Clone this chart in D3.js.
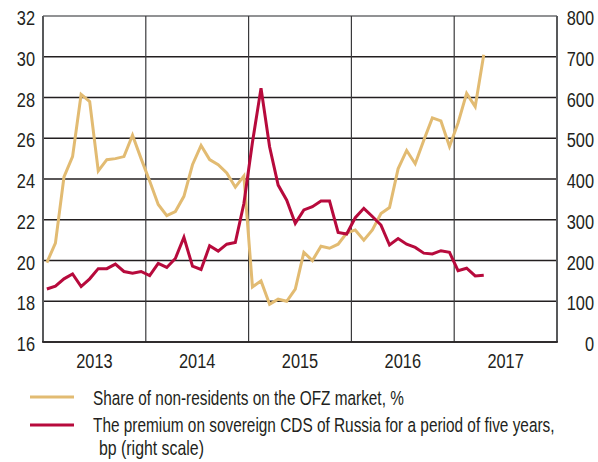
<!DOCTYPE html>
<html>
<head>
<meta charset="utf-8">
<script src="https://cdn.jsdelivr.net/npm/d3@7"></script>
<style>
  html, body { margin: 0; padding: 0; background: #fff; }
  svg { display: block; }
  text { font-family: "Liberation Sans", Arial, sans-serif; fill: #231f20; }
</style>
</head>
<body>
<svg id="chart" width="598" height="462"></svg>
<script>
// ---- data (monthly, Jan 2013 – Apr 2017) ----
const years = ["2013", "2014", "2015", "2016", "2017"];
const leftTicks = [16, 18, 20, 22, 24, 26, 28, 30, 32];
const rightTicks = [0, 100, 200, 300, 400, 500, 600, 700, 800];
const shareNonResidents = [
  19.9, 20.85, 24.1, 25.1, 28.15, 27.8, 24.4, 24.95, 25.0, 25.1, 26.15, 25.0,
  23.9, 22.75, 22.2, 22.4, 23.15, 24.7, 25.65, 24.95, 24.7, 24.3, 23.6, 24.15,
  18.7, 19.0, 17.85, 18.1, 18.0, 18.6, 20.4, 20.0, 20.7, 20.6, 20.8, 21.35,
  21.5, 21.0, 21.5, 22.3, 22.6, 24.5, 25.4, 24.75, 25.9, 27.0, 26.85, 25.6,
  26.75, 28.2, 27.55, 30.1
];
const cdsPremium = [
  130, 137, 155, 167, 136, 155, 180, 180, 191, 173, 169, 173,
  163, 193, 183, 205, 257, 186, 178, 236, 223, 240, 244, 340,
  490, 623, 479, 385, 348, 291, 324, 332, 346, 346, 269, 265,
  305, 328, 308, 287, 238, 254, 240, 232, 218, 216, 224, 220,
  175, 181, 162, 164
];
const legendLabels = [
  "Share of non-residents on the OFZ market, %",
  "The premium on sovereign CDS of Russia for a period of five years,",
  "bp (right scale)"
];

// ---- layout ----
const svg = d3.select("#chart");
const plot = { left: 43, right: 557, top: 16, bottom: 342 };

const x = d3.scaleLinear().domain([0, 60]).range([plot.left, plot.right]);
const yL = d3.scaleLinear().domain([16, 32]).range([plot.bottom, plot.top]);
const yR = d3.scaleLinear().domain([0, 800]).range([plot.bottom, plot.top]);

const colShare = "#e2bb72";
const colCds = "#b70a3c";
const sx = 0.78; // horizontal condensing of the label font

// horizontal gridlines
svg.append("g").selectAll("line").data(leftTicks).join("line")
  .attr("x1", plot.left).attr("x2", plot.right)
  .attr("y1", d => yL(d)).attr("y2", d => yL(d))
  .attr("stroke", d => d === 32 ? "#6d6e70" : "#231f20")
  .attr("stroke-width", 1.3);

// vertical year separators
svg.append("g").selectAll("line").data([12, 24, 36, 48]).join("line")
  .attr("x1", d => x(d)).attr("x2", d => x(d))
  .attr("y1", plot.top).attr("y2", plot.bottom)
  .attr("stroke", "#3a3a3c").attr("stroke-width", 1.2);

// frame: left, right, bottom
svg.append("line").attr("x1", plot.left).attr("x2", plot.left)
  .attr("y1", plot.top).attr("y2", plot.bottom)
  .attr("stroke", "#58595b").attr("stroke-width", 2);
svg.append("line").attr("x1", plot.right).attr("x2", plot.right)
  .attr("y1", plot.top).attr("y2", plot.bottom)
  .attr("stroke", "#58595b").attr("stroke-width", 2);
svg.append("line").attr("x1", plot.left - 1).attr("x2", plot.right + 1)
  .attr("y1", plot.bottom).attr("y2", plot.bottom)
  .attr("stroke", "#231f20").attr("stroke-width", 1.5);

// left axis labels
svg.append("g").selectAll("text").data(leftTicks).join("text")
  .attr("transform", d => `translate(35,${yL(d) + 9}) scale(${sx},1)`)
  .attr("text-anchor", "end").attr("font-size", 21)
  .text(d => d);

// right axis labels
svg.append("g").selectAll("text").data(rightTicks).join("text")
  .attr("transform", d => `translate(594,${yR(d) + 9}) scale(${sx},1)`)
  .attr("text-anchor", "end").attr("font-size", 21)
  .text(d => d);

// year labels
svg.append("g").selectAll("text").data(years).join("text")
  .attr("transform", (d, i) => `translate(${x(i * 12 + 6)},368) scale(${sx},1)`)
  .attr("text-anchor", "middle").attr("font-size", 21)
  .text(d => d);

// lines
const off = 0.45;
const lineShare = d3.line().x((d, i) => x(i + off)).y(d => yL(d));
const lineCds = d3.line().x((d, i) => x(i + off)).y(d => yR(d));

svg.append("path").datum(shareNonResidents)
  .attr("d", lineShare).attr("fill", "none")
  .attr("stroke", colShare).attr("stroke-width", 3)
  .attr("stroke-linejoin", "miter");
svg.append("path").datum(cdsPremium)
  .attr("d", lineCds).attr("fill", "none")
  .attr("stroke", colCds).attr("stroke-width", 3)
  .attr("stroke-linejoin", "miter");

// legend
const lg = svg.append("g");
lg.append("line").attr("x1", 30).attr("x2", 74).attr("y1", 397).attr("y2", 397)
  .attr("stroke", colShare).attr("stroke-width", 3);
lg.append("line").attr("x1", 30).attr("x2", 74).attr("y1", 425).attr("y2", 425)
  .attr("stroke", colCds).attr("stroke-width", 3);
const legendPos = [
  { x: 93, y: 405, w: 311 },
  { x: 93, y: 432, w: 462 },
  { x: 99, y: 455, w: 105 }
];
lg.selectAll("text").data(legendLabels).join("text")
  .attr("font-size", 18)
  .text(d => d)
  .each(function (d, i) {
    const p = legendPos[i];
    const natural = this.getComputedTextLength() || p.w;
    d3.select(this).attr("transform",
      `translate(${p.x},${p.y}) scale(${p.w / natural},1.08)`);
  });
</script>
</body>
</html>
